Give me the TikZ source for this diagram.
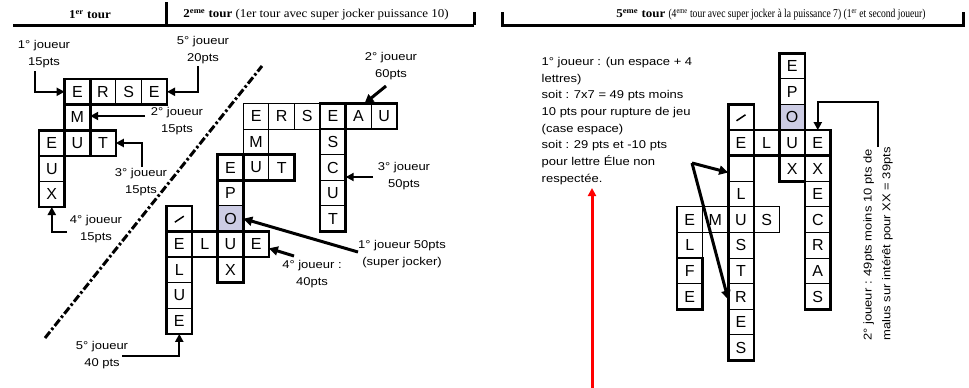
\documentclass[tikz,border=0pt]{standalone}
\usepackage{fontspec}
\setmainfont{Liberation Serif}
\newfontfamily\labfont[FakeStretch=1.15]{Liberation Sans}
\newfontfamily\cellfont{Liberation Sans}
\newfontfamily\headfont[FakeStretch=1.08]{Liberation Serif}
\newfontfamily\headfontc[FakeStretch=0.8]{Liberation Serif}
\usetikzlibrary{arrows.meta}
\definecolor{shadeO}{RGB}{204,204,228}
\newcommand\mkcell[6]{\node[cell] (#1) at ({#2+(#4+0.5)*25.6},{#3+(#5+0.5)*25.6}) {#6};}
\newcommand\cellA[4]{\mkcell{#1}{39}{79}{#2}{#3}{#4}}
\newcommand\cellB[4]{\mkcell{#1}{166.5}{103.5}{#2}{#3}{#4}}
\newcommand\cellC[4]{\mkcell{#1}{677}{53.3}{#2}{#3}{#4}}
\begin{document}
\begin{tikzpicture}[x=1pt,y=-1pt,
  cell/.style={draw, line width=1.1pt, minimum size=25.6pt, inner sep=0pt, outer sep=0pt,
    font=\cellfont\fontsize{16}{16}\selectfont},
  word/.style={line width=2.6pt},
  lab/.style={font=\labfont\fontsize{11.3}{16.5}\selectfont, align=center, inner sep=0pt},
  head/.style={font=\headfont\fontsize{12}{14}\selectfont, inner sep=0pt},
  conn/.style={line width=2pt, -{Triangle[length=8pt,width=8pt]}},
  bigarr/.style={line width=3pt, -{Triangle[length=9pt,width=9pt]}},
  hline/.style={line width=3pt},
  slash/.style={line width=1.5pt}
]
\useasboundingbox (0,0) rectangle (969,388);

% ---------- header ----------
\draw[hline] (13,25) -- (474,25);
\draw[hline] (166,2) -- (166,25);
\draw[hline] (474,12) -- (474,25);
\draw[hline] (502,12) -- (502,25) -- (963,25) -- (963,12);
\node[head] (h1) at (90,15) {\textbf{1\textsuperscript{er} tour}};
\node[head] (h2) at (316,15) {\textbf{2\textsuperscript{eme} tour} (1er tour avec super jocker puissance 10)};
\node[head] (h3) at (771,15) {\textbf{5\textsuperscript{eme} tour} {\headfontc\fontsize{12}{14}\selectfont(4\textsuperscript{eme} tour avec super jocker à la puissance 7) (1\textsuperscript{er} et second joueur)}};

% ---------- dash-dot separator ----------
\coordinate (d1) at (45,338);
\coordinate (d2) at (262,66);
\draw[line width=3pt, dash pattern=on 8pt off 2.5pt on 2.5pt off 2.5pt] (d1) -- (d2);

% ---------- grid 1 ----------
\cellA{a1}{1}{0}{E} \cellA{a2}{2}{0}{R} \cellA{a3}{3}{0}{S} \cellA{a4}{4}{0}{E}
\cellA{a5}{1}{1}{M}
\cellA{a6}{0}{2}{E} \cellA{a7}{1}{2}{U} \cellA{a8}{2}{2}{T}
\cellA{a9}{0}{3}{U}
\cellA{a10}{0}{4}{X}
\draw[word] (a1.north west) rectangle (a4.south east);
\draw[word] (a1.north west) rectangle (a7.south east);
\draw[word] (a6.north west) rectangle (a8.south east);
\draw[word] (a6.north west) rectangle (a10.south east);

\node[lab] (l1) at (44,54) {1° joueur\\15pts};
\node[lab] (l5) at (203,50) {5° joueur\\20pts};
\node[lab] (l2) at (177,121) {2° joueur\\15pts};
\node[lab] (l3) at (141,182) {3° joueur\\15pts};
\node[lab] (l4) at (96,229) {4° joueur\\15pts};
\coordinate (p1) at (35,71);
\coordinate (p5) at (198,66);
\coordinate (p2) at (145,116);
\coordinate (p3) at (142,167);
\coordinate (p4) at (67,232);
\draw[conn] (p1) |- (a1.west);
\draw[conn] (p5) |- (a4.east);
\draw[conn] (p2) -- (p2 -| a5.east);
\draw[conn] (p3) |- (a8.east);
\draw[conn] (p4) -| (a10.south);

% ---------- grid 2 ----------
\cellB{b1}{3}{0}{E} \cellB{b2}{4}{0}{R} \cellB{b3}{5}{0}{S} \cellB{b4}{6}{0}{E} \cellB{b5}{7}{0}{A} \cellB{b6}{8}{0}{U}
\cellB{b7}{3}{1}{M} \cellB{b8}{6}{1}{S}
\cellB{b9}{2}{2}{E} \cellB{b10}{3}{2}{U} \cellB{b11}{4}{2}{T} \cellB{b12}{6}{2}{C}
\cellB{b13}{2}{3}{P} \cellB{b14}{6}{3}{U}
\cellB{b15}{0}{4}{}
\node[cell, fill=shadeO] (b16) at ({166.5+2.5*25.6},{103.5+4.5*25.6}) {O};
\cellB{b17}{6}{4}{T}
\cellB{b18}{0}{5}{E} \cellB{b19}{1}{5}{L} \cellB{b20}{2}{5}{U} \cellB{b21}{3}{5}{E}
\cellB{b22}{0}{6}{L} \cellB{b23}{2}{6}{X}
\cellB{b24}{0}{7}{U}
\cellB{b25}{0}{8}{E}
\draw[slash] ([shift={(-4.5,3.5)}]b15.center) -- ([shift={(4.5,-2.5)}]b15.center);
\draw[word] (b4.north west) rectangle (b6.south east);
\draw[word] (b4.north west) rectangle (b17.south east);
\draw[word] (b9.north west) rectangle (b11.south east);
\draw[word] (b9.north west) rectangle (b23.south east);
\draw[word] (b18.north west) rectangle (b21.south east);
\draw[word] (b15.north west) rectangle (b25.south east);

\node[lab] (m5) at (102,355) {5° joueur\\40 pts};
\node[lab] (m2) at (391,66) {2° joueur\\60pts};
\node[lab] (m3) at (404,176) {3° joueur\\50pts};
\node[lab] (m1) at (402,254) {1° joueur 50pts\\(super jocker)};
\node[lab] (m4) at (312,274) {4° joueur :\\40pts};
\coordinate (q5) at (122,356);
\coordinate (q2) at (386,86);
\coordinate (q3) at (373,177);
\coordinate (q1) at (358,252);
\coordinate (q4) at (294,256);
\draw[conn] (q5) -| (b25.south);
\draw[bigarr] (q2) -- ([xshift=6pt]b5.north);
\draw[conn] (q3) -- (q3 -| b12.east);
\draw[bigarr] (q1) -- (b16.east);
\draw[bigarr] (q4) -- ([yshift=-4pt]b21.east);

% ---------- grid 3 ----------
\cellC{c1}{4}{0}{E}
\cellC{c2}{4}{1}{P}
\node[cell, fill=shadeO] (c3) at ({677+4.5*25.6},{53.3+2.5*25.6}) {O};
\cellC{c4}{2}{2}{}
\cellC{c5}{2}{3}{E} \cellC{c6}{3}{3}{L} \cellC{c7}{4}{3}{U} \cellC{c8}{5}{3}{E}
\cellC{c9}{2}{4}{} \cellC{c10}{4}{4}{X} \cellC{c11}{5}{4}{X}
\cellC{c12}{2}{5}{L} \cellC{c13}{5}{5}{E}
\cellC{c14}{0}{6}{E} \cellC{c15}{1}{6}{M} \cellC{c16}{2}{6}{U} \cellC{c17}{3}{6}{S} \cellC{c18}{5}{6}{C}
\cellC{c19}{0}{7}{L} \cellC{c20}{2}{7}{S} \cellC{c21}{5}{7}{R}
\cellC{c22}{0}{8}{F} \cellC{c23}{2}{8}{T} \cellC{c24}{5}{8}{A}
\cellC{c25}{0}{9}{E} \cellC{c26}{2}{9}{R} \cellC{c27}{5}{9}{S}
\cellC{c28}{2}{10}{E}
\cellC{c29}{2}{11}{S}
\draw[slash] ([shift={(-4.5,3.5)}]c4.center) -- ([shift={(4.5,-2.5)}]c4.center);
\draw[word] (c1.north west) rectangle (c10.south east);
\draw[word] (c5.north west) rectangle (c8.south east);
\draw[word] (c8.north west) rectangle (c27.south east);
\draw[word] (c4.north west) rectangle (c29.south east);
\draw[word] (c22.north west) rectangle (c25.south east);

\node[lab, align=left, anchor=north west, font=\labfont\fontsize{11.3}{16.7}\selectfont] (t5) at (541.5,57)
  {1° joueur : (un espace + 4\\lettres)\\soit : 7x7 = 49 pts moins\\10 pts pour rupture de jeu\\(case espace)\\soit : 29 pts et -10 pts\\pour lettre Élue non\\respectée.};
\node[lab, align=left, rotate=90, font=\labfont\fontsize{11.3}{18.7}\selectfont] (t2) at (878,244)
  {2° joueur : 49pts moins 10 pts de\\malus sur intérêt pour XX = 39pts};

\coordinate (r0) at (692,163);
\draw[bigarr] (r0) -- ([yshift=-4pt]c9.west);
\draw[bigarr] (r0) -- ([yshift=-3pt]c26.west);
\coordinate (r1) at (878,147);
\coordinate (r2) at (878,102);
\draw[conn] (r1) -- (r2) -| (c8.north);
\coordinate (rr) at (592,388);
\coordinate (rt) at (592,188);
\draw[line width=3pt, red, -{Triangle[length=8pt,width=8pt]}] (rr) -- (rt);
\end{tikzpicture}
\end{document}
